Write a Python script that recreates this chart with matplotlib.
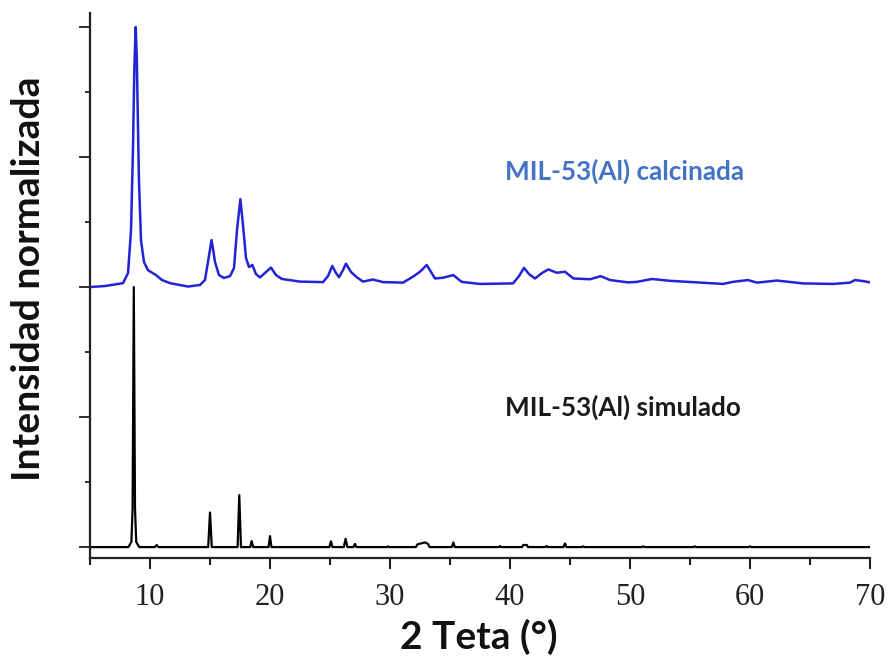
import matplotlib
matplotlib.use("Agg")
import matplotlib.pyplot as plt
from matplotlib.ticker import MultipleLocator, NullFormatter

# ---- data ----
calc_2theta = [5.0, 6.25, 7.75, 8.17, 8.42, 8.58, 8.70, 8.81, 8.90, 8.96, 9.08, 9.25, 9.5, 9.83,
               10.5, 11.0, 11.67, 13.17, 14.17, 14.58, 14.83, 15.13, 15.42, 15.75,
               16.17, 16.67, 17.0, 17.25, 17.53, 17.75, 18.0, 18.25, 18.53, 18.83,
               19.17, 19.67, 20.08, 20.5, 21.0, 22.5, 24.42, 24.83, 25.19, 25.5,
               25.75, 26.08, 26.33, 26.75, 27.25, 27.75, 28.58, 29.42, 31.08, 31.92,
               32.5, 33.06, 33.42, 33.75, 34.42, 35.28, 35.97, 37.5, 40.25, 40.75,
               41.17, 41.58, 42.08, 42.67, 43.19, 43.89, 44.58, 45.28, 46.67, 47.56,
               48.33, 49.83, 50.58, 51.83, 53.33, 55.58, 57.75, 58.58, 59.83, 60.58,
               62.25, 64.42, 66.92, 68.33, 68.75, 69.42, 70.0]
calc_int = [1.000, 1.004, 1.015, 1.054, 1.22, 1.53, 1.85, 2.00, 1.88, 1.72, 1.41, 1.18, 1.096, 1.065,
            1.046, 1.027, 1.015, 1.002, 1.008, 1.027, 1.096, 1.181, 1.096, 1.046,
            1.035, 1.042, 1.073, 1.219, 1.338, 1.238, 1.112, 1.077, 1.085, 1.050,
            1.037, 1.058, 1.075, 1.046, 1.031, 1.021, 1.019, 1.042, 1.081, 1.054,
            1.038, 1.065, 1.090, 1.058, 1.037, 1.021, 1.029, 1.019, 1.017, 1.040,
            1.059, 1.085, 1.058, 1.033, 1.036, 1.046, 1.020, 1.012, 1.014, 1.042,
            1.074, 1.050, 1.033, 1.054, 1.068, 1.055, 1.059, 1.033, 1.030, 1.042,
            1.027, 1.018, 1.020, 1.031, 1.024, 1.018, 1.012, 1.020, 1.027, 1.017,
            1.025, 1.014, 1.012, 1.017, 1.027, 1.023, 1.018]

sim_2theta = [5.0, 8.2, 8.45, 8.55, 8.65, 8.75, 8.85, 9.1, 10.4, 10.56, 10.7,
              14.85, 15.0, 15.15, 17.3, 17.44, 17.58, 18.35, 18.47, 18.6,
              19.88, 20.0, 20.12, 24.95, 25.08, 25.2, 26.15, 26.3, 26.45, 26.95,
              27.08, 27.2, 29.75, 29.83, 29.9, 32.15, 32.28, 32.4, 32.92, 33.17,
              33.3, 35.15, 35.28, 35.4, 39.1, 39.17, 39.25, 41.0, 41.1, 41.4,
              41.5, 42.95, 43.06, 43.15, 44.45, 44.58, 44.7, 46.0, 46.1, 46.2,
              51.0, 51.1, 51.2, 55.3, 55.4, 55.5, 59.9, 60.0, 60.1, 70.0]
sim_int = [0.0, 0.0, 0.02, 0.15, 1.0, 0.15, 0.02, 0.0, 0.0, 0.008, 0.0,
           0.0, 0.133, 0.0, 0.0, 0.20, 0.0, 0.0, 0.023, 0.0,
           0.0, 0.042, 0.0, 0.0, 0.022, 0.0, 0.0, 0.032, 0.0, 0.0,
           0.012, 0.0, 0.0, 0.003, 0.0, 0.0, 0.01, 0.012, 0.018, 0.012,
           0.0, 0.0, 0.018, 0.0, 0.0, 0.004, 0.0, 0.0, 0.008, 0.008,
           0.0, 0.0, 0.004, 0.0, 0.0, 0.014, 0.0, 0.0, 0.003, 0.0,
           0.0, 0.003, 0.0, 0.0, 0.003, 0.0, 0.0, 0.003, 0.0, 0.0]

label_calc = "MIL-53(Al) calcinada"
label_sim = "MIL-53(Al) simulado"
xlabel = "2 Teta (°)"
ylabel = "Intensidad normalizada"

# ---- figure ----
W, H = 888, 662
fig = plt.figure(figsize=(W / 100, H / 100), dpi=100)
ax = fig.add_axes([90 / W, 1 - 558 / H, (870 - 90) / W, (558 - 13) / H])

ax.plot(sim_2theta, sim_int, color="black", lw=1.6, solid_joinstyle="round")
ax.plot(calc_2theta, calc_int, color="#2323d6", lw=1.8, solid_joinstyle="round")

ax.set_xlim(5, 70)
ax.set_ylim(-0.042, 2.054)

for s in ("top", "right"):
    ax.spines[s].set_visible(False)
for s in ("left", "bottom"):
    ax.spines[s].set_linewidth(1.6)
    ax.spines[s].set_color("#222222")

ax.xaxis.set_major_locator(MultipleLocator(10))
ax.xaxis.set_minor_locator(MultipleLocator(5))
ax.yaxis.set_major_locator(MultipleLocator(0.5))
ax.yaxis.set_minor_locator(MultipleLocator(0.25))
ax.yaxis.set_major_formatter(NullFormatter())
ax.tick_params(axis="x", which="major", direction="out", length=8, width=1.5,
               labelsize=22, pad=10, colors="#222222")
ax.tick_params(axis="x", which="minor", direction="out", length=5, width=1.5,
               colors="#222222")
ax.tick_params(axis="y", which="major", direction="out", length=8, width=1.3,
               colors="#222222")
ax.tick_params(axis="y", which="minor", direction="out", length=3.5, width=1.3,
               colors="#222222")
ax.set_xticks([10, 20, 30, 40, 50, 60, 70])
for lab in ax.get_xticklabels():
    lab.set_fontfamily("Liberation Serif")

ax.text(39.6, 1.445, label_calc, color="#4472C4", fontsize=18.8, fontweight="bold",
        family="Lato", ha="left", va="center")
ax.text(39.6, 0.538, label_sim, color="#1a1a1a", fontsize=18.8, fontweight="bold",
        family="Lato", ha="left", va="center")

fig.text(479 / W, 1 - 637 / H, xlabel, fontsize=28, fontweight="bold",
         family="Lato", ha="center", va="center", color="#111111")
fig.text(29 / W, 1 - 279 / H, ylabel, fontsize=28.3, fontweight="bold",
         family="Lato", ha="center", va="center", rotation=90, color="#111111")

fig.savefig("out.png", dpi=100)
